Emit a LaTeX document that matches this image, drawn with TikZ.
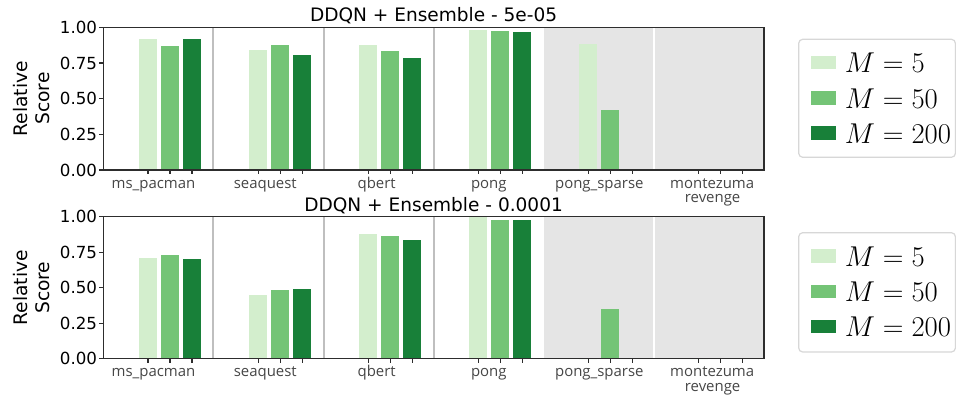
\RequirePackage{fix-cm}
\documentclass[tikz,border=0pt]{standalone}
\usepackage{fontspec}
\setmainfont{DejaVu Sans}
\newfontfamily\xlabfont{Open Sans}
\definecolor{gA}{RGB}{211,238,205}
\definecolor{gB}{RGB}{116,196,118}
\definecolor{gC}{RGB}{24,128,57}
\definecolor{bgg}{RGB}{229,229,229}
\definecolor{sepg}{RGB}{191,191,191}
\definecolor{spine}{RGB}{45,45,45}
\definecolor{legb}{RGB}{215,215,215}
\definecolor{xlabc}{RGB}{70,70,70}
\tikzset{
  ticklab/.style={font=\fontsize{12.5}{15}\selectfont, anchor=east, inner sep=0pt},
  xlab/.style={font=\xlabfont\fontsize{11.2}{13}\selectfont, text=xlabc, anchor=base, inner sep=0pt},
  ttl/.style={font=\fontsize{13.9}{16}\selectfont, anchor=base, inner sep=0pt},
  ylab/.style={font=\fontsize{14}{16}\selectfont, rotate=90, align=center, inner sep=0pt},
  legtxt/.style={font=\fontsize{21.5}{25}\selectfont, anchor=base west, inner sep=0pt},
  legbox/.style={draw=legb, fill=white, rounded corners=3, line width=0.9},
  spn/.style={draw=spine, line width=0.9},
}
\newcommand\panel[5]{%
  % #1 top y, #2 bottom y, #3 title, #4 name prefix, #5 bar data
  \pgfmathsetmacro\H{#2-#1}
  \fill[bgg] (544,#1) rectangle (764,#2);
  \draw[white, line width=1.5] (654.3,#1) -- (654.3,#2);
  \foreach \xx in {213.4,323.8,434} \draw[sepg, line width=1.5] (\xx,#1) -- (\xx,#2);
  \foreach \g/\a/\b/\c in {#5}{
    \pgfmathsetmacro\xo{103.3+110.12*\g+35.7}
    \fill[gA] (\xo,#2) rectangle ({\xo+18},{#2-\a*\H});
    \fill[gB] ({\xo+22},#2) rectangle ({\xo+40},{#2-\b*\H});
    \fill[gC] ({\xo+44},#2) rectangle ({\xo+62},{#2-\c*\H});
    \foreach \k in {0,22,44} \draw[spn] ({\xo+9+\k},#2) -- ++(0,4);
  }
  \draw[spn] (103.3,#1) rectangle (764,#2);
  \foreach \v/\l [count=\i] in {0/0.00,0.25/0.25,0.5/0.50,0.75/0.75,1/1.00}{
    \draw[spn] (103.3,{#2-\v*\H}) -- ++(-4.5,0);
    \node[ticklab] (#4y\i) at (97.3,{#2-\v*\H}) {\l};
  }
  \node[ttl] (#4title) at (433.6,{#1-5.3}) {#3};
  \node[ylab] (#4ylab) at (31.5,{(#1+#2)/2}) {Relative\\Score};
  \node[xlab] (#4xa) at (153.5,{#2+18.2}) {ms\_pacman};
  \node[xlab] (#4xb) at (265.3,{#2+18.2}) {seaquest};
  \node[xlab] (#4xc) at (376.7,{#2+18.2}) {qbert};
  \node[xlab] (#4xd) at (488.8,{#2+18.2}) {pong};
  \node[xlab] (#4xe) at (599.3,{#2+18.2}) {pong\_sparse};
  \node[xlab, text depth=0pt] (#4xf) at (712.2,{#2+18.2}) {montezuma};
  \node[xlab, text height=6pt] (#4xg) at (712.6,{#2+32.4}) {revenge};
}
\newcommand\legendbox[3]{%
  % #1 box top, #2 box bottom, #3 name prefix
  \draw[legbox] (798.7,#1) rectangle (955.4,#2);
  \foreach \col/\dy/\txt [count=\i] in {gA/23.2/{$M=5$}, gB/58.9/{$M=50$}, gC/93.6/{$M=200$}}{
    \fill[\col] (811,{#1+\dy-6.8}) rectangle (836,{#1+\dy+6.8});
    \node[legtxt] (#3l\i) at (844.6,{#1+\dy+10.2}) {\txt};
  }
}
\begin{document}
\begin{tikzpicture}[x=0.75pt,y=-0.75pt]
\useasboundingbox (0,0) rectangle (956,395);
\panel{27.3}{170}{DDQN + Ensemble - 5e-05}{t}{0/.918/.869/.918, 1/.841/.876/.806, 2/.876/.834/.785, 3/.981/.974/.967, 4/.883/.42/.004, 5/0/.004/.004}
\panel{216.7}{358.7}{DDQN + Ensemble - 0.0001}{b}{0/.709/.730/.702, 1/.449/.484/.491, 2/.878/.864/.836, 3/1.0/.977/.977, 4/0/.35/.004, 5/0/.004/.004}
\legendbox{39.3}{157.3}{t}
\legendbox{232.7}{352}{b}
\end{tikzpicture}
\end{document}
